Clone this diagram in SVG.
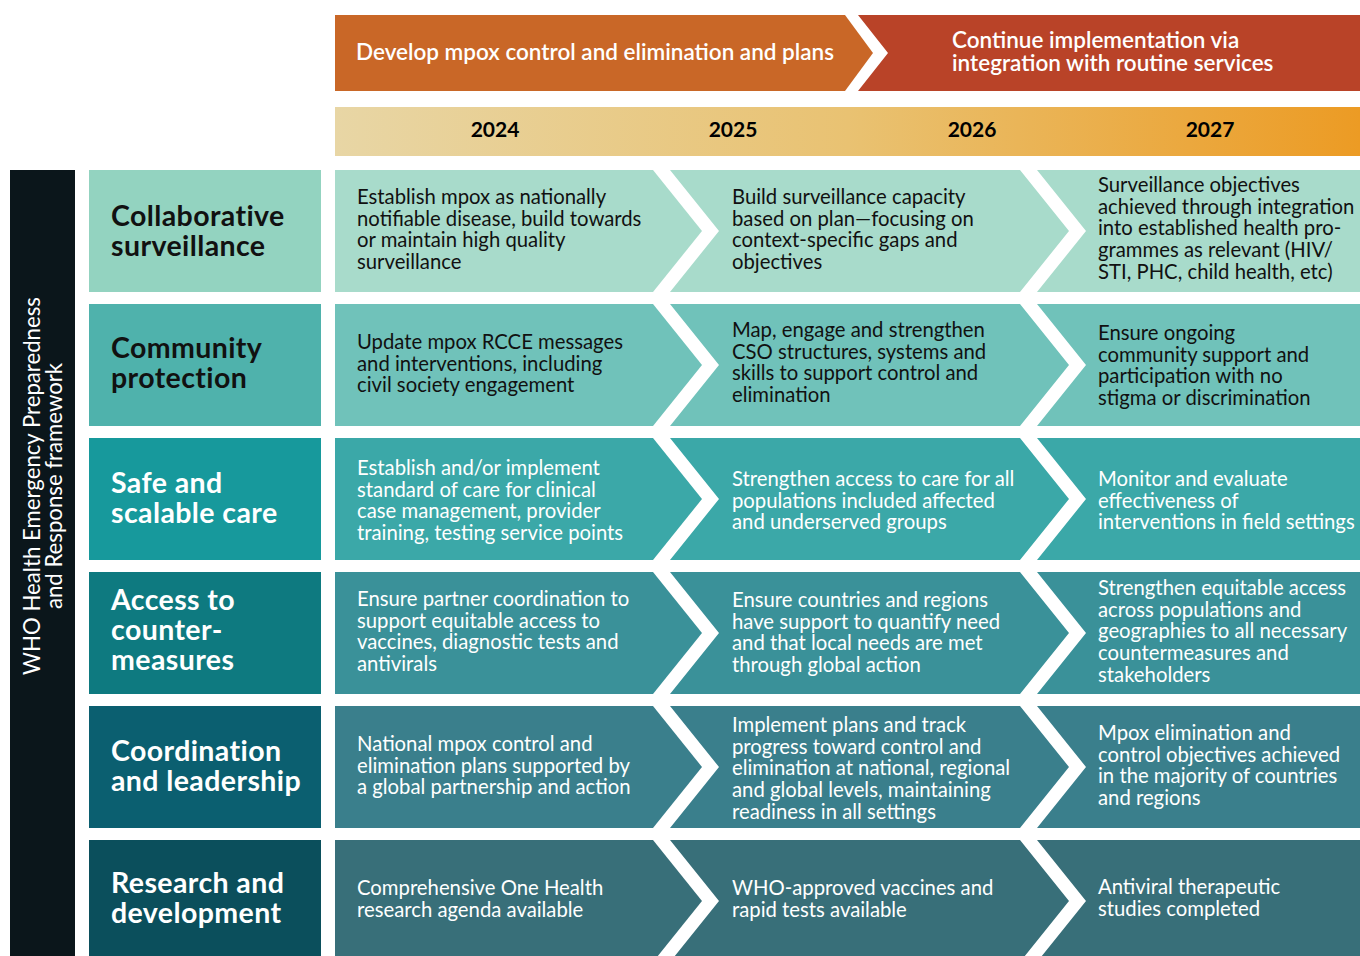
<svg xmlns="http://www.w3.org/2000/svg" width="1360" height="956" viewBox="0 0 1360 956">
<defs>
<linearGradient id="yearGrad" x1="0" y1="0" x2="1" y2="0">
<stop offset="0" stop-color="#E8D6A5"/>
<stop offset="0.5" stop-color="#E9C272"/>
<stop offset="1" stop-color="#EC9B24"/>
</linearGradient>
<style>
.body{font-family:Lato,"Noto Sans",sans-serif;font-size:20.3px;}
.dark{fill:#111;}
.light{fill:#fff;}
.cat{font-family:Lato,"Noto Sans",sans-serif;font-size:28.5px;font-weight:bold;letter-spacing:0.4px;}
.year{font-family:Lato,"Noto Sans",sans-serif;font-size:21px;font-weight:bold;fill:#000;text-anchor:middle;}
.ban{font-family:Lato,"Noto Sans",sans-serif;font-size:22.5px;font-weight:600;fill:#fff;}
.vert{font-family:Lato,"Noto Sans",sans-serif;font-size:22.2px;fill:#fff;text-anchor:middle;}
</style>
</defs>
<rect width="1360" height="956" fill="#fff"/>

<g id="banner-develop">
<path d="M335,15 L845,15 L873,53 L845,91 L335,91 Z" fill="#C96727"/>
<text class="ban" x="356" y="60">Develop mpox control and elimination and plans</text>
</g>
<g id="banner-continue">
<path d="M858,15 L1360,15 L1360,91 L858,91 L888,53 Z" fill="#B94328"/>
<text class="ban" x="952" y="48">Continue implementation via</text>
<text class="ban" x="952" y="71">integration with routine services</text>
</g>

<g id="year-bar">
<rect x="335" y="107" width="1025" height="49" fill="url(#yearGrad)"/>
<text class="year" x="495" y="137">2024</text>
<text class="year" x="733" y="137">2025</text>
<text class="year" x="972" y="137">2026</text>
<text class="year" x="1210" y="137">2027</text>
</g>

<g id="framework-label">
<rect x="10" y="170" width="65" height="786" fill="#0B161B"/>
<g transform="translate(0,486) rotate(-90)">
<text class="vert" x="0" y="40">WHO Health Emergency Preparedness</text>
<text class="vert" x="0" y="62">and Response framework</text>
</g>
</g>

<!-- Row 1 -->
<g id="cat-surveillance">
<rect x="89" y="170" width="232" height="122" fill="#93D3C0"/>
<text class="cat dark" x="111" y="226">Collaborative<tspan x="111" dy="30">surveillance</tspan></text>
</g>
<g id="r1-2024">
<path d="M335,170 L653,170 L702,231 L653,292 L335,292 Z" fill="#A8DBCB"/>
<text class="body dark" x="357" y="204">Establish mpox as nationally<tspan x="357" dy="21.7">notifiable disease, build towards</tspan><tspan x="357" dy="21.7">or maintain high quality</tspan><tspan x="357" dy="21.7">surveillance</tspan></text>
</g>
<g id="r1-2025">
<path d="M670,170 L1020,170 L1069,231 L1020,292 L670,292 L719,231 Z" fill="#A8DBCB"/>
<text class="body dark" x="732" y="204">Build surveillance capacity<tspan x="732" dy="21.7">based on plan—focusing on</tspan><tspan x="732" dy="21.7">context-specific gaps and</tspan><tspan x="732" dy="21.7">objectives</tspan></text>
</g>
<g id="r1-2027">
<path d="M1037,170 L1360,170 L1360,292 L1037,292 L1086,231 Z" fill="#A8DBCB"/>
<text class="body dark" x="1098" y="192">Surveillance objectives<tspan x="1098" dy="21.7">achieved through integration</tspan><tspan x="1098" dy="21.7">into established health pro-</tspan><tspan x="1098" dy="21.7">grammes as relevant (HIV/</tspan><tspan x="1098" dy="21.7">STI, PHC, child health, etc)</tspan></text>
</g>

<!-- Row 2 -->
<g id="cat-community">
<rect x="89" y="304" width="232" height="122" fill="#4FB2AC"/>
<text class="cat dark" x="111" y="358">Community<tspan x="111" dy="30">protection</tspan></text>
</g>
<g id="r2-2024">
<path d="M335,304 L653,304 L702,365 L653,426 L335,426 Z" fill="#70C2BA"/>
<text class="body dark" x="357" y="349">Update mpox RCCE messages<tspan x="357" dy="21.7">and interventions, including</tspan><tspan x="357" dy="21.7">civil society engagement</tspan></text>
</g>
<g id="r2-2025">
<path d="M670,304 L1020,304 L1069,365 L1020,426 L670,426 L719,365 Z" fill="#70C2BA"/>
<text class="body dark" x="732" y="337">Map, engage and strengthen<tspan x="732" dy="21.7">CSO structures, systems and</tspan><tspan x="732" dy="21.7">skills to support control and</tspan><tspan x="732" dy="21.7">elimination</tspan></text>
</g>
<g id="r2-2027">
<path d="M1037,304 L1360,304 L1360,426 L1037,426 L1086,365 Z" fill="#70C2BA"/>
<text class="body dark" x="1098" y="340">Ensure ongoing<tspan x="1098" dy="21.7">community support and</tspan><tspan x="1098" dy="21.7">participation with no</tspan><tspan x="1098" dy="21.7">stigma or discrimination</tspan></text>
</g>

<!-- Row 3 -->
<g id="cat-care">
<rect x="89" y="438" width="232" height="122" fill="#17999C"/>
<text class="cat light" x="111" y="493">Safe and<tspan x="111" dy="30">scalable care</tspan></text>
</g>
<g id="r3-2024">
<path d="M335,438 L653,438 L702,499 L653,560 L335,560 Z" fill="#3BA8A8"/>
<text class="body light" x="357" y="475">Establish and/or implement<tspan x="357" dy="21.7">standard of care for clinical</tspan><tspan x="357" dy="21.7">case management, provider</tspan><tspan x="357" dy="21.7">training, testing service points</tspan></text>
</g>
<g id="r3-2025">
<path d="M670,438 L1020,438 L1069,499 L1020,560 L670,560 L719,499 Z" fill="#3BA8A8"/>
<text class="body light" x="732" y="486">Strengthen access to care for all<tspan x="732" dy="21.7">populations included affected</tspan><tspan x="732" dy="21.7">and underserved groups</tspan></text>
</g>
<g id="r3-2027">
<path d="M1037,438 L1360,438 L1360,560 L1037,560 L1086,499 Z" fill="#3BA8A8"/>
<text class="body light" x="1098" y="486">Monitor and evaluate<tspan x="1098" dy="21.7">effectiveness of</tspan><tspan x="1098" dy="21.7">interventions in field settings</tspan></text>
</g>

<!-- Row 4 -->
<g id="cat-countermeasures">
<rect x="89" y="572" width="232" height="122" fill="#0E7A80"/>
<text class="cat light" x="111" y="610">Access to<tspan x="111" dy="30">counter-</tspan><tspan x="111" dy="30">measures</tspan></text>
</g>
<g id="r4-2024">
<path d="M335,572 L653,572 L702,633 L653,694 L335,694 Z" fill="#3A9199"/>
<text class="body light" x="357" y="606">Ensure partner coordination to<tspan x="357" dy="21.7">support equitable access to</tspan><tspan x="357" dy="21.7">vaccines, diagnostic tests and</tspan><tspan x="357" dy="21.7">antivirals</tspan></text>
</g>
<g id="r4-2025">
<path d="M670,572 L1020,572 L1069,633 L1020,694 L670,694 L719,633 Z" fill="#3A9199"/>
<text class="body light" x="732" y="607">Ensure countries and regions<tspan x="732" dy="21.7">have support to quantify need</tspan><tspan x="732" dy="21.7">and that local needs are met</tspan><tspan x="732" dy="21.7">through global action</tspan></text>
</g>
<g id="r4-2027">
<path d="M1037,572 L1360,572 L1360,694 L1037,694 L1086,633 Z" fill="#3A9199"/>
<text class="body light" x="1098" y="595">Strengthen equitable access<tspan x="1098" dy="21.7">across populations and</tspan><tspan x="1098" dy="21.7">geographies to all necessary</tspan><tspan x="1098" dy="21.7">countermeasures and</tspan><tspan x="1098" dy="21.7">stakeholders</tspan></text>
</g>

<!-- Row 5 -->
<g id="cat-coordination">
<rect x="89" y="706" width="232" height="122" fill="#0B5F70"/>
<text class="cat light" x="111" y="761">Coordination<tspan x="111" dy="30">and leadership</tspan></text>
</g>
<g id="r5-2024">
<path d="M335,706 L653,706 L702,767 L653,828 L335,828 Z" fill="#3A7F8C"/>
<text class="body light" x="357" y="751">National mpox control and<tspan x="357" dy="21.7">elimination plans supported by</tspan><tspan x="357" dy="21.7">a global partnership and action</tspan></text>
</g>
<g id="r5-2025">
<path d="M670,706 L1020,706 L1069,767 L1020,828 L670,828 L719,767 Z" fill="#3A7F8C"/>
<text class="body light" x="732" y="732">Implement plans and track<tspan x="732" dy="21.7">progress toward control and</tspan><tspan x="732" dy="21.7">elimination at national, regional</tspan><tspan x="732" dy="21.7">and global levels, maintaining</tspan><tspan x="732" dy="21.7">readiness in all settings</tspan></text>
</g>
<g id="r5-2027">
<path d="M1037,706 L1360,706 L1360,828 L1037,828 L1086,767 Z" fill="#3A7F8C"/>
<text class="body light" x="1098" y="740">Mpox elimination and<tspan x="1098" dy="21.7">control objectives achieved</tspan><tspan x="1098" dy="21.7">in the majority of countries</tspan><tspan x="1098" dy="21.7">and regions</tspan></text>
</g>

<!-- Row 6 -->
<g id="cat-research">
<rect x="89" y="840" width="232" height="122" fill="#0B4F5C"/>
<text class="cat light" x="111" y="893">Research and<tspan x="111" dy="30">development</tspan></text>
</g>
<g id="r6-2024">
<path d="M335,840 L653,840 L702,901 L653,962 L335,962 Z" fill="#386F79"/>
<text class="body light" x="357" y="895">Comprehensive One Health<tspan x="357" dy="21.7">research agenda available</tspan></text>
</g>
<g id="r6-2025">
<path d="M670,840 L1020,840 L1069,901 L1020,962 L670,962 L719,901 Z" fill="#386F79"/>
<text class="body light" x="732" y="895">WHO-approved vaccines and<tspan x="732" dy="21.7">rapid tests available</tspan></text>
</g>
<g id="r6-2027">
<path d="M1037,840 L1360,840 L1360,962 L1037,962 L1086,901 Z" fill="#386F79"/>
<text class="body light" x="1098" y="894">Antiviral therapeutic<tspan x="1098" dy="21.7">studies completed</tspan></text>
</g>

<g id="connectors"></g>
</svg>
